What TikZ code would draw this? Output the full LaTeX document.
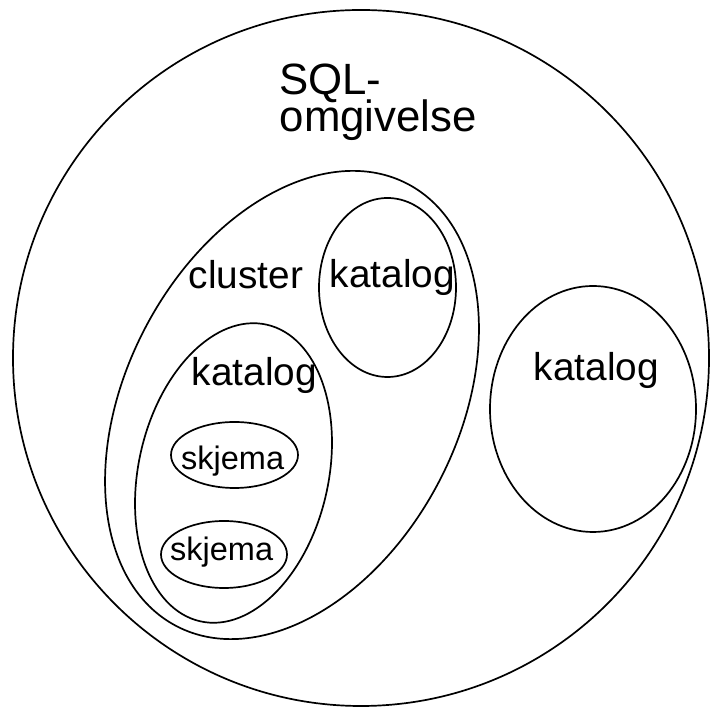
\documentclass[tikz,border=0pt]{standalone}
\usepackage{fontspec}
\setmainfont{Liberation Sans}
\tikzset{
  shapeline/.style={draw=black, line width=1.7pt},
  bigtext/.style={inner sep=0pt, anchor=base west, font=\fontsize{43.8}{43.8}\selectfont},
  midtext/.style={inner sep=0pt, anchor=base west, font=\fontsize{38.8}{38.8}\selectfont},
  smalltext/.style={inner sep=0pt, anchor=base west, font=\fontsize{32.5}{32.5}\selectfont},
}
\begin{document}
\begin{tikzpicture}[x=1pt,y=1pt]
\useasboundingbox (0,0) rectangle (710,714);
\fill[white] (0,0) rectangle (710,714);
% outer SQL environment
\draw[shapeline] (361,356) circle [radius=348];
% cluster
\draw[shapeline] (292,309) ellipse [x radius=249.5, y radius=165.8, rotate=62.4];
% catalog in cluster (top)
\draw[shapeline] (387.5,426.5) ellipse [x radius=68.5, y radius=89.5];
% catalog in cluster (left)
\draw[shapeline] (233.5,241) ellipse [x radius=152, y radius=95, rotate=77.4];
% catalog outside
\draw[shapeline] (593,305) ellipse [x radius=103, y radius=123];
% schemas
\draw[shapeline] (234.5,259) ellipse [x radius=63.5, y radius=33];
\draw[shapeline] (224,159.5) ellipse [x radius=63, y radius=33.5];
% texts
\node[bigtext] (sql) at (279,619.5) {SQL-};
\node[bigtext] (omg) at (279.5,582) {omgivelse};
\node[midtext] (clu) at (188.5,425) {cluster};
\node[midtext] (kat1) at (329.5,426.5) {katalog};
\node[midtext] (kat2) at (191.5,328) {katalog};
\node[midtext] (kat3) at (533.5,333) {katalog};
\node[smalltext] (skj1) at (181,244) {skjema};
\node[smalltext] (skj2) at (170,153.5) {skjema};
\end{tikzpicture}
\end{document}
